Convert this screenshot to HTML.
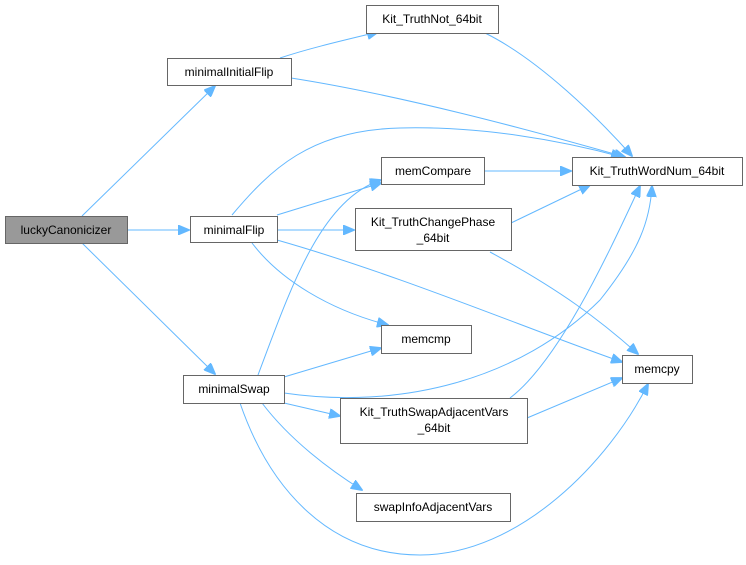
<!DOCTYPE html>
<html><head><meta charset="utf-8"><style>
html,body{margin:0;padding:0;background:#fff;}
svg{display:block;}
text{font-family:"Liberation Sans",Arial,sans-serif;font-size:12px;fill:#000;}
</style></head><body>
<svg width="746" height="565" viewBox="0 0 746 565" xmlns="http://www.w3.org/2000/svg">
<defs>
<marker id="a" markerWidth="12" markerHeight="10" refX="11" refY="5" orient="auto" markerUnits="userSpaceOnUse">
<path d="M0,0 L12,5 L0,10 Z" fill="#63b8ff" stroke="#63b8ff"/>
</marker>
</defs>
<g fill="none" stroke="#63b8ff" stroke-width="1" marker-end="url(#a)">
<path d="M82,216 L215,86"/>
<path d="M127,230 L189,230"/>
<path d="M82,243 L215,374"/>
<path d="M280,58 C310,48 345,40 378,32"/>
<path d="M291,78 C400,95 530,130 625,157"/>
<path d="M485,33 C540,60 600,120 632,156"/>
<path d="M232,215 C270,170 310,130 400,128 C480,126 560,140 622,157"/>
<path d="M277,215 L381,183"/>
<path d="M277,230 L354,230"/>
<path d="M252,243 C280,280 330,310 388,325"/>
<path d="M277,240 C400,275 530,330 622,362"/>
<path d="M484,171 L571,171"/>
<path d="M511,223 L590,185"/>
<path d="M490,252 C560,290 600,320 638,354"/>
<path d="M258,375 C290,290 320,200 381,180"/>
<path d="M284,377 L381,348"/>
<path d="M284,393 C400,410 520,380 600,300 C640,250 650,220 652,186"/>
<path d="M284,403 L340,416"/>
<path d="M262,403 C290,440 330,470 362,490"/>
<path d="M240,403 C270,490 330,555 420,555 C520,555 610,460 648,384"/>
<path d="M527,418 L622,378"/>
<path d="M510,398 C560,360 610,250 640,186"/>
</g>
<g stroke="#666" stroke-width="1">
<rect x="5.5" y="216.5" width="122" height="27" fill="#999"/>
<rect x="167.5" y="58.5" width="124" height="27" fill="#fff"/>
<rect x="190.5" y="216.5" width="87" height="26" fill="#fff"/>
<rect x="183.5" y="375.5" width="101" height="28" fill="#fff"/>
<rect x="366.5" y="5.5" width="132" height="28" fill="#fff"/>
<rect x="381.5" y="157.5" width="103" height="27" fill="#fff"/>
<rect x="355.5" y="208.5" width="156" height="42" fill="#fff"/>
<rect x="381.5" y="325.5" width="90" height="28" fill="#fff"/>
<rect x="572.5" y="157.5" width="170" height="28" fill="#fff"/>
<rect x="622.5" y="355.5" width="70" height="28" fill="#fff"/>
<rect x="340.5" y="398.5" width="187" height="45" fill="#fff"/>
<rect x="356.5" y="493.5" width="154" height="28" fill="#fff"/>
</g>
<g text-anchor="middle">
<text x="66" y="234">luckyCanonicizer</text>
<text x="229" y="76">minimalInitialFlip</text>
<text x="234" y="234">minimalFlip</text>
<text x="234" y="393">minimalSwap</text>
<text x="432" y="23">Kit_TruthNot_64bit</text>
<text x="433" y="175">memCompare</text>
<text x="433" y="226">Kit_TruthChangePhase</text>
<text x="433" y="242">_64bit</text>
<text x="426" y="343">memcmp</text>
<text x="657" y="175">Kit_TruthWordNum_64bit</text>
<text x="657" y="373">memcpy</text>
<text x="434" y="416">Kit_TruthSwapAdjacentVars</text>
<text x="434" y="432">_64bit</text>
<text x="433" y="511">swapInfoAdjacentVars</text>
</g>
</svg>
</body></html>
